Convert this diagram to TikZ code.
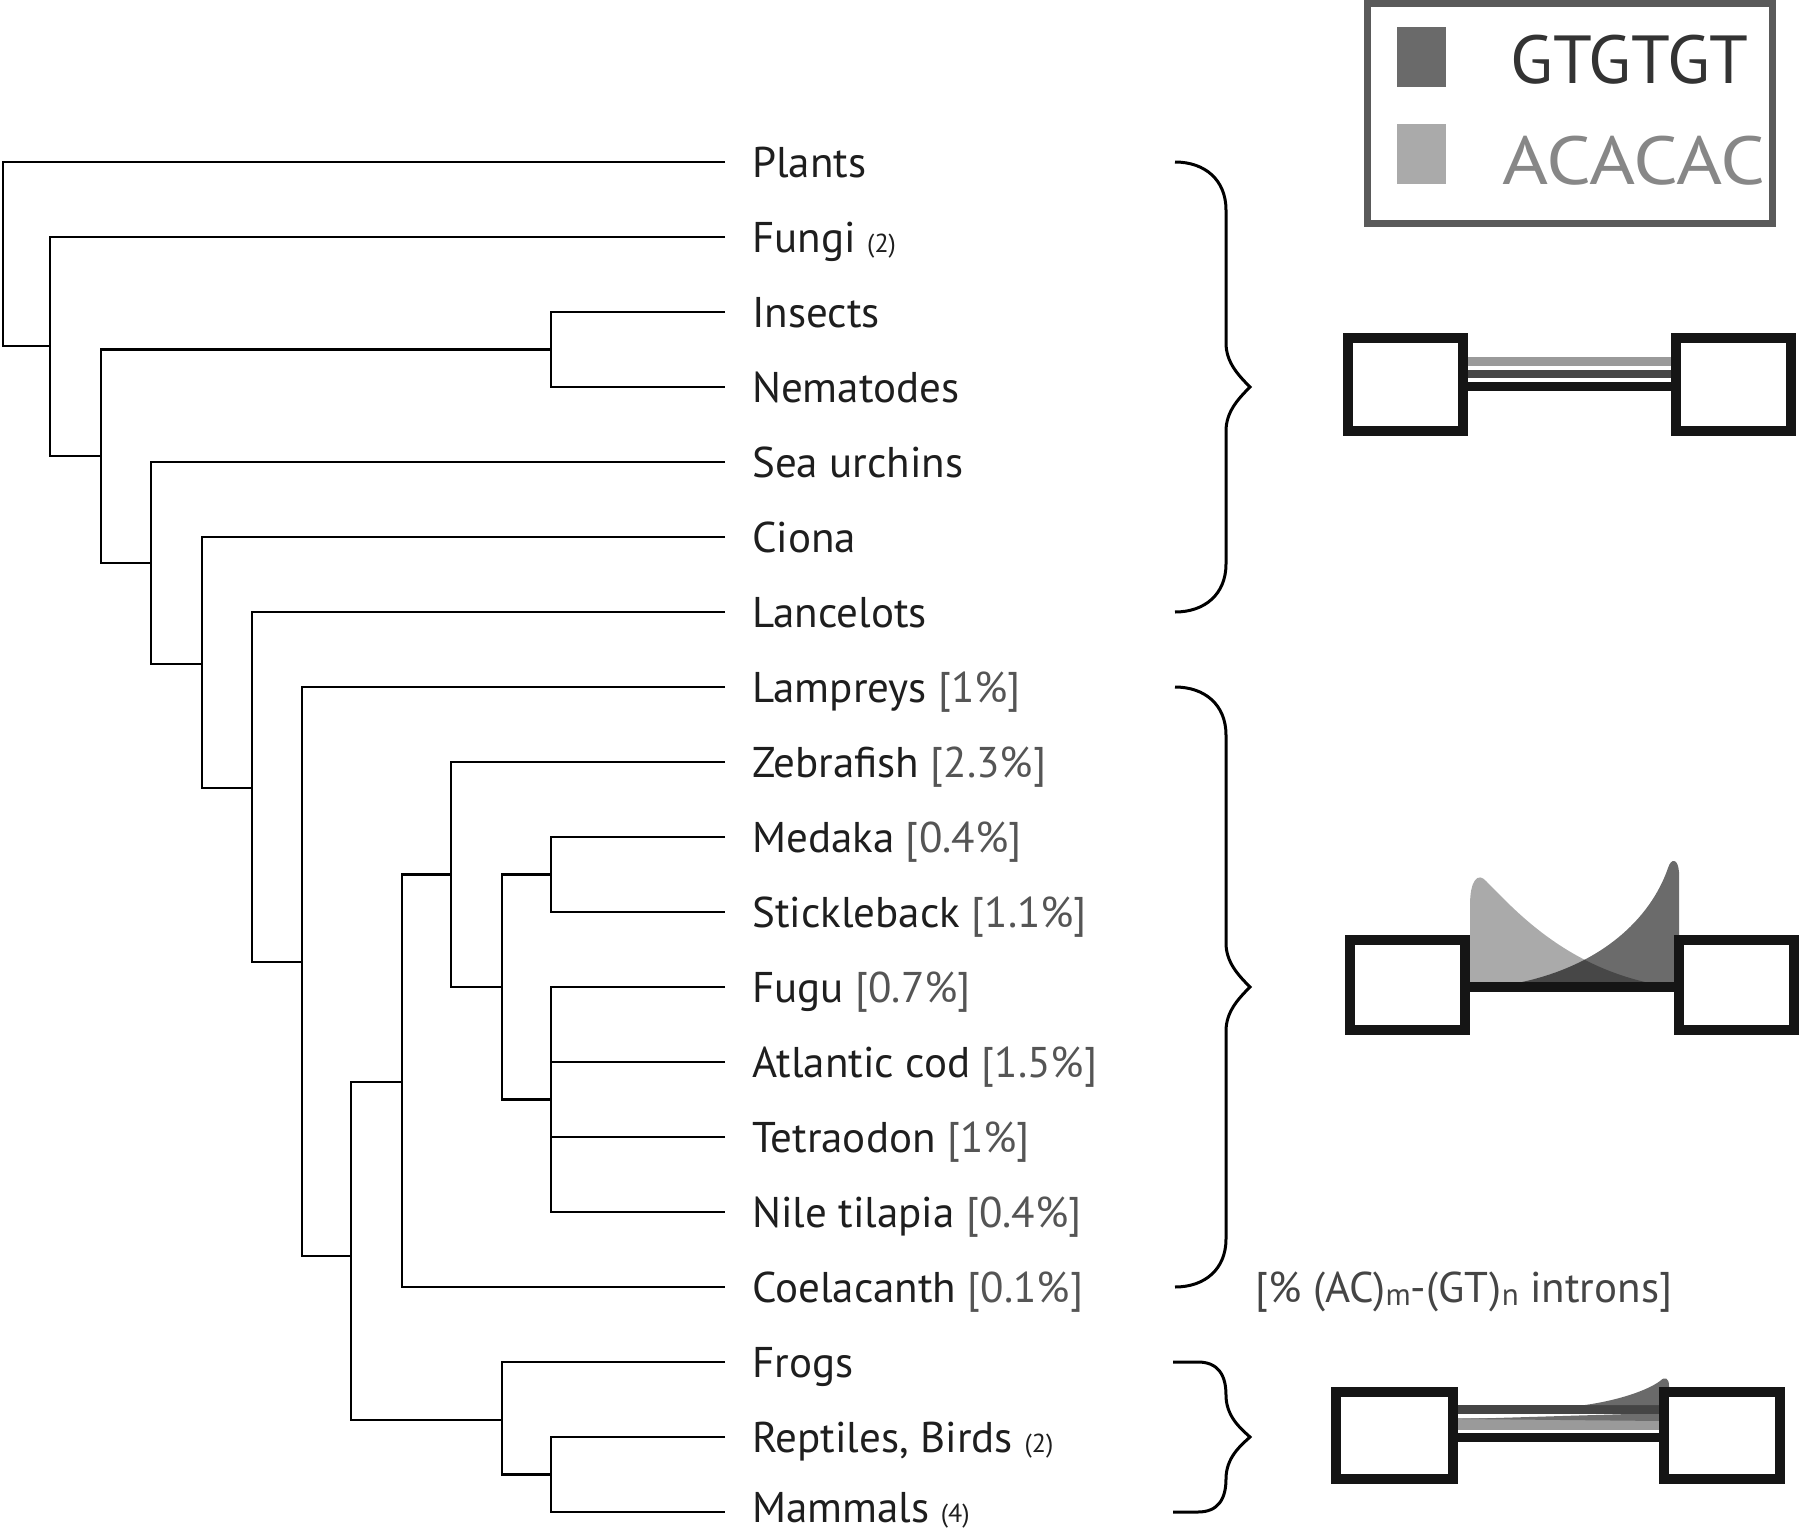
\documentclass[tikz,border=0pt]{standalone}
\usepackage{fontspec}
\setmainfont{PT Sans}
\definecolor{txtc}{HTML}{1E1E1E}
\definecolor{pctc}{HTML}{555555}
\definecolor{gtc}{HTML}{6A6A6A}
\definecolor{acc}{HTML}{AAAAAA}
\definecolor{legbd}{HTML}{5A5A5A}
\definecolor{barlight}{HTML}{9A9A9A}
\definecolor{bardark}{HTML}{454545}
\definecolor{exonc}{HTML}{151515}
\newcommand\smallpar[1]{{\fontsize{26}{30}\selectfont #1}}
\newcommand\pcnt[1]{\textcolor{pctc}{#1}}
\newcommand\subx[1]{\raisebox{-3pt}{\fontsize{31}{34}\selectfont #1}}
\begin{document}
\begin{tikzpicture}[x=1pt,y=-1pt,
  tree/.style={line width=2.6pt,black},
  leaflab/.style={anchor=base west,inner sep=0pt,text=txtc,font=\fontsize{43}{50}\selectfont},
  brace/.style={line width=3pt,black},
  exon/.style={draw=exonc,line width=10pt,fill=white},
  legtext/.style={anchor=base west,inner sep=0pt,font=\fontsize{68}{72}\selectfont}]
\useasboundingbox (0,0) rectangle (1800,1529);

% ---------- leaves ----------
\foreach \i in {0,...,18}{
  \coordinate (l\i) at (725,{162+75*\i});
}
\node[leaflab] (t0)  at (752,{162+75*0+15})  {Plants};
\node[leaflab] (t1)  at (752,{162+75*1+15})  {Fungi \smallpar{(2)}};
\node[leaflab] (t2)  at (752,{162+75*2+15})  {Insects};
\node[leaflab] (t3)  at (752,{162+75*3+15})  {Nematodes};
\node[leaflab] (t4)  at (752,{162+75*4+15})  {Sea urchins};
\node[leaflab] (t5)  at (752,{162+75*5+15})  {Ciona};
\node[leaflab] (t6)  at (752,{162+75*6+15})  {Lancelots};
\node[leaflab] (t7)  at (752,{162+75*7+15})  {Lampreys \pcnt{[1\%]}};
\node[leaflab] (t8)  at (752,{162+75*8+15})  {Zebrafish \pcnt{[2.3\%]}};
\node[leaflab] (t9)  at (752,{162+75*9+15})  {Medaka \pcnt{[0.4\%]}};
\node[leaflab] (t10) at (752,{162+75*10+15}) {Stickleback \pcnt{[1.1\%]}};
\node[leaflab] (t11) at (752,{162+75*11+15}) {Fugu \pcnt{[0.7\%]}};
\node[leaflab] (t12) at (752,{162+75*12+15}) {Atlantic cod \pcnt{[1.5\%]}};
\node[leaflab] (t13) at (752,{162+75*13+15}) {Tetraodon \pcnt{[1\%]}};
\node[leaflab] (t14) at (752,{162+75*14+15}) {Nile tilapia \pcnt{[0.4\%]}};
\node[leaflab] (t15) at (752,{162+75*15+15}) {Coelacanth \pcnt{[0.1\%]}};
\node[leaflab] (t16) at (752,{162+75*16+15}) {Frogs};
\node[leaflab] (t17) at (752,{162+75*17+15}) {Reptiles, Birds \smallpar{(2)}};
\node[leaflab] (t18) at (752,{162+75*18+10}) {Mammals \smallpar{(4)}};

% ---------- internal nodes ----------
\coordinate (root) at (3,254);
\coordinate (nA) at (50,346);
\coordinate (nB) at (101,456);
\coordinate (nIns) at (551,349.5);
\coordinate (nC) at (151,563);
\coordinate (nD) at (202,664);
\coordinate (nE) at (252,788);
\coordinate (nF) at (302,962);
\coordinate (nG) at (351,1256);
\coordinate (nH) at (402,1082);
\coordinate (nI) at (451,874.5);
\coordinate (nJ) at (502,987);
\coordinate (nMed) at (551,874.5);
\coordinate (nFugu) at (551,1099.5);
\coordinate (nFrog) at (502,1420);
\coordinate (nRep) at (551,1474.5);

% ---------- tree connectors ----------
\draw[tree] (l0) -| (root) |- (nA);
\draw[tree] (l1) -| (nA) |- (nB);
\draw[tree] (nIns) -| (nB) |- (nC);
\draw[tree] (l2) -| (nIns) |- (l3);
\draw[tree] (l4) -| (nC) |- (nD);
\draw[tree] (l5) -| (nD) |- (nE);
\draw[tree] (l6) -| (nE) |- (nF);
\draw[tree] (l7) -| (nF) |- (nG);
\draw[tree] (nH) -| (nG) |- (nFrog);
\draw[tree] (nI) -| (nH) |- (l15);
\draw[tree] (l8) -| (nI) |- (nJ);
\draw[tree] (nMed) -| (nJ) |- (nFugu);
\draw[tree] (l9) -| (nMed) |- (l10);
\draw[tree] (l11) -| (nFugu) |- (l14);
\draw[tree] (l12) -- (l12 -| nFugu);
\draw[tree] (l13) -- (l13 -| nFugu);
\draw[tree] (l16) -| (nFrog) |- (nRep);
\draw[tree] (l17) -| (nRep) |- (l18);

% ---------- braces ----------
\draw[brace] (1175,162) .. controls (1205,162) and (1226,180) .. (1226,210) -- (1226,343)
  .. controls (1226,362) and (1238,375) .. (1250,387)
  .. controls (1238,399) and (1226,412) .. (1226,431) -- (1226,564)
  .. controls (1226,594) and (1205,612) .. (1175,612);
\draw[brace] (1175,687) .. controls (1205,687) and (1226,705) .. (1226,735) -- (1226,943)
  .. controls (1226,962) and (1238,975) .. (1250,987)
  .. controls (1238,999) and (1226,1012) .. (1226,1031) -- (1226,1239)
  .. controls (1226,1269) and (1205,1287) .. (1175,1287);
\draw[brace] (1173,1362) -- (1198,1362) .. controls (1218,1362) and (1226,1375) .. (1226,1395)
  .. controls (1226,1416) and (1240,1428) .. (1250,1437)
  .. controls (1240,1446) and (1226,1458) .. (1226,1479)
  .. controls (1226,1499) and (1218,1512) .. (1198,1512) -- (1173,1512);

% ---------- legend ----------
\draw[legbd,line width=7pt] (1367.5,3.5) rectangle (1772.5,223.5);
\fill[gtc] (1397,27) rectangle (1446,87);
\fill[acc] (1397,124) rectangle (1446,184);
\node[legtext,text=black!80] (lgt) at (1510,83) {\scalebox{1.03}[1]{GTGTGT}};
\node[legtext,text=black!47] (lac) at (1502,184) {\scalebox{1.16}[1]{ACACAC}};

% ---------- intron diagram 1 ----------
\fill[barlight] (1466,357) rectangle (1673,366);
\fill[bardark] (1466,370) rectangle (1673,378);
\fill[exonc] (1466,382) rectangle (1673,391);
\draw[exon] (1348,338) rectangle (1463,431);
\draw[exon] (1676,338) rectangle (1791,431);

% ---------- intron diagram 2 ----------
\fill[acc] (1470,982) -- (1470,905) .. controls (1470,880) and (1478,872) .. (1486,881)
  .. controls (1512,907) and (1560,962) .. (1645,982) -- cycle;
\fill[black,opacity=0.58] (1522,982) .. controls (1600,965) and (1650,920) .. (1668,868)
  .. controls (1671,858) and (1678,858) .. (1679,872) -- (1679,982) -- cycle;
\fill[exonc] (1468,982) rectangle (1676,992);
\draw[exon] (1350,940) rectangle (1465,1030);
\draw[exon] (1679,940) rectangle (1794,1030);

% ---------- intron diagram 3 ----------
\fill[barlight] (1456,1418) rectangle (1662,1430);
\fill[black!57] (1462,1419) -- (1662,1413) -- (1662,1421) -- cycle;
\fill[bardark] (1456,1405) rectangle (1665,1414);
\fill[gtc] (1585,1405) .. controls (1620,1400) and (1648,1390) .. (1660,1381)
  .. controls (1665,1376) and (1669,1378) .. (1669,1386) -- (1669,1418) -- (1662,1418) -- (1662,1405) -- cycle;
\fill[exonc] (1456,1433) rectangle (1662,1442);
\draw[exon] (1336,1392) rectangle (1453,1479);
\draw[exon] (1664,1392) rectangle (1780,1479);

% ---------- caption ----------
\node[leaflab,text=black!73] (cap) at (1255,1302) {[\% (AC)\subx{m}-(GT)\subx{n} introns]};
\end{tikzpicture}
\end{document}
